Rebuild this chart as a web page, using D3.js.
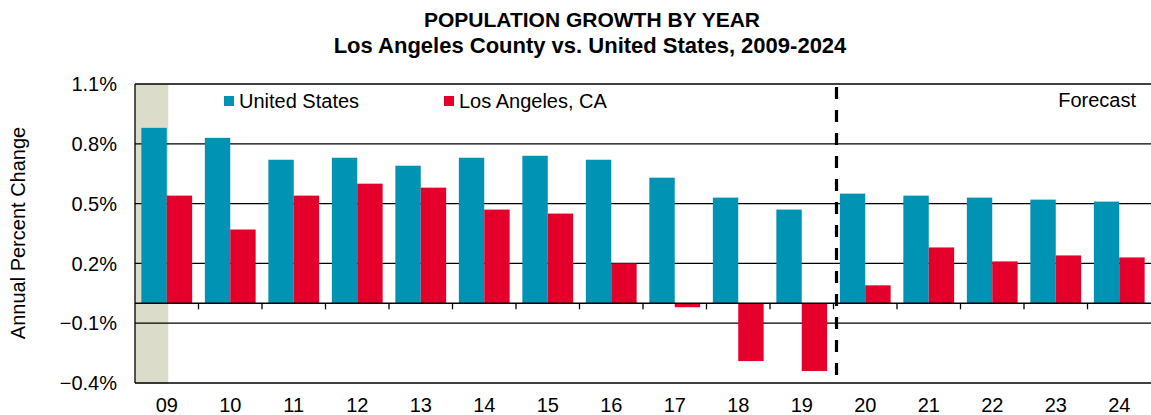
<!DOCTYPE html>
<html>
<head>
<meta charset="utf-8">
<script src="https://cdn.jsdelivr.net/npm/d3@7"></script>
<style>
  html, body { margin: 0; padding: 0; background: #fff; }
  svg { display: block; font-family: "Liberation Sans", Arial, sans-serif; }
</style>
</head>
<body>
<svg id="chart" width="1151" height="415"></svg>
<script>
// Year labels (20xx) and annual population growth, percent
const years = ["09","10","11","12","13","14","15","16","17","18","19","20","21","22","23","24"];
const usGrowth = [0.88, 0.83, 0.72, 0.73, 0.69, 0.73, 0.74, 0.72, 0.63, 0.53, 0.47, 0.55, 0.54, 0.53, 0.52, 0.51];
const laGrowth = [0.54, 0.37, 0.54, 0.60, 0.58, 0.47, 0.45, 0.20, -0.02, -0.29, -0.34, 0.09, 0.28, 0.21, 0.24, 0.23];
const seriesNames = ["United States", "Los Angeles, CA"];
const seriesColors = ["#0093b3", "#e4002b"];
const yTicks = [-0.4, -0.1, 0.2, 0.5, 0.8, 1.1];
const forecastStart = "20";
const highlightYear = "09";

const svg = d3.select("#chart");
const W = 1151;
const plotLeft = 135, plotTop = 84, plotBottom = 383;

const x = d3.scaleBand().domain(years).range([plotLeft, W]).padding(0);
const sub = d3.scaleBand().domain(seriesNames).range([0, x.bandwidth()])
  .paddingInner(0).paddingOuter(0.25);
const y = d3.scaleLinear().domain([-0.4, 1.1]).range([plotBottom, plotTop]);

// Shaded first year
svg.append("rect")
  .attr("x", x(highlightYear))
  .attr("y", y(1.1))
  .attr("width", sub("United States") + sub.bandwidth() + 1.5)
  .attr("height", y(-0.4) - y(1.1) + 1)
  .attr("fill", "#dcdccb");

// Horizontal gridlines
svg.append("g").selectAll("line").data(yTicks).join("line")
  .attr("x1", plotLeft).attr("x2", W)
  .attr("y1", d => y(d)).attr("y2", d => y(d))
  .attr("stroke", "#000").attr("stroke-width", 1.3);

// Bars
const rows = years.map((yr, i) => ({ yr, vals: [usGrowth[i], laGrowth[i]] }));
const groups = svg.append("g").selectAll("g").data(rows).join("g")
  .attr("transform", d => `translate(${x(d.yr)},0)`);
groups.selectAll("rect").data(d => d.vals.map((v, k) => ({ v, k }))).join("rect")
  .attr("x", d => sub(seriesNames[d.k]))
  .attr("width", sub.bandwidth())
  .attr("y", d => y(Math.max(0, d.v)))
  .attr("height", d => Math.abs(y(d.v) - y(0)))
  .attr("fill", d => seriesColors[d.k]);

// Zero line with category ticks
svg.append("line")
  .attr("x1", plotLeft).attr("x2", W)
  .attr("y1", y(0)).attr("y2", y(0))
  .attr("stroke", "#000").attr("stroke-width", 1.3);
svg.append("g").selectAll("line").data(years.slice(1)).join("line")
  .attr("x1", d => x(d)).attr("x2", d => x(d))
  .attr("y1", y(0)).attr("y2", y(0) + 6)
  .attr("stroke", "#000").attr("stroke-width", 1.3);

// Left axis line
svg.append("line")
  .attr("x1", plotLeft).attr("x2", plotLeft)
  .attr("y1", y(1.1)).attr("y2", y(-0.4))
  .attr("stroke", "#000").attr("stroke-width", 1.3);

// Forecast divider
svg.append("line")
  .attr("x1", x(forecastStart) + 3).attr("x2", x(forecastStart) + 3)
  .attr("y1", y(1.1) + 3).attr("y2", y(-0.4) - 5)
  .attr("stroke", "#000").attr("stroke-width", 3.2)
  .attr("stroke-dasharray", "12,11");

// Y tick labels
svg.append("g").selectAll("text").data(yTicks).join("text")
  .attr("x", 117).attr("y", d => y(d)).attr("dy", "0.36em")
  .attr("text-anchor", "end").attr("font-size", 20).attr("fill", "#000")
  .text(d => d3.format(".1f")(d) + "%");

// X labels
svg.append("g").selectAll("text").data(years).join("text")
  .attr("x", d => x(d) + x.bandwidth() / 2).attr("y", 412)
  .attr("text-anchor", "middle").attr("font-size", 20).attr("fill", "#000")
  .text(d => d);

// Y axis title
svg.append("text")
  .attr("transform", "translate(25,233) rotate(-90)")
  .attr("text-anchor", "middle").attr("font-size", 20).attr("fill", "#000")
  .text("Annual Percent Change");

// Titles
svg.append("text").attr("x", 592).attr("y", 27).attr("text-anchor", "middle")
  .attr("font-size", 21).attr("font-weight", "bold").text("POPULATION GROWTH BY YEAR");
svg.append("text").attr("x", 590).attr("y", 53).attr("text-anchor", "middle")
  .attr("font-size", 22).attr("font-weight", "bold")
  .text("Los Angeles County vs. United States, 2009-2024");

// Legend
const legendX = [224, 444];
const lg = svg.append("g").selectAll("g").data(seriesNames).join("g")
  .attr("transform", (d, i) => `translate(${legendX[i]},96)`);
lg.append("rect").attr("width", 10).attr("height", 10)
  .attr("fill", (d, i) => seriesColors[i]);
lg.append("text").attr("x", 15).attr("y", 12).attr("font-size", 20).text(d => d);

// Forecast label
svg.append("text").attr("x", 1136).attr("y", 107).attr("text-anchor", "end")
  .attr("font-size", 20).text("Forecast");
</script>
</body>
</html>
